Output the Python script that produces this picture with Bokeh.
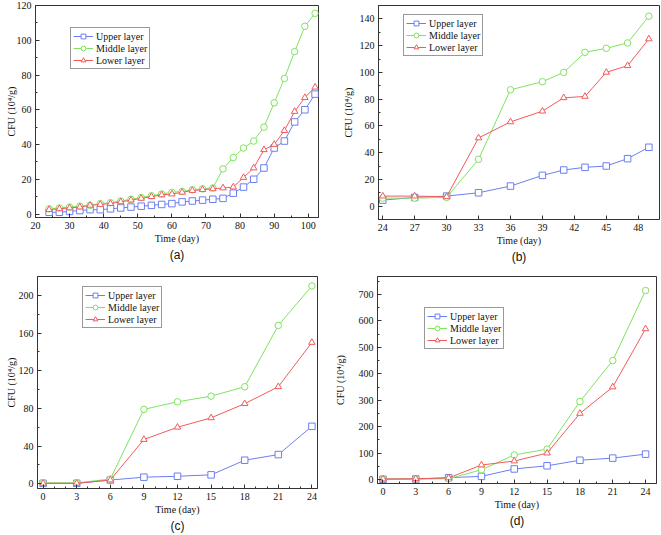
from bokeh.plotting import figure
from bokeh.layouts import column, row
from bokeh.models import Range1d, SingleIntervalTicker, FixedTicker, Legend, LinearAxis
from bokeh.embed import file_html
from bokeh.resources import INLINE

# ---------------- data ----------------
# panel (a)
a_days = [24, 27, 30, 33, 36, 39, 42, 45, 48, 51, 54, 57, 60, 63, 66, 69, 72, 75, 78, 81, 84, 87, 90, 93, 96, 99, 102]
a_upper = [1, 1, 1.5, 2, 2.5, 2.5, 3, 3.5, 4, 4.5, 5, 5.5, 6, 7, 7.5, 8, 8.5, 9, 12, 15.5, 20, 26.5, 38, 42, 53, 60, 69]
a_middle = [3, 3.5, 4, 4.5, 5, 6, 6.5, 7.5, 8.5, 9.5, 10.5, 11.5, 12.5, 13, 14, 14.5, 15, 26, 32.5, 38, 42, 50, 64, 78, 93.5, 108, 115.5]
a_lower = [2.5, 3, 3.5, 4, 5, 5.5, 6, 7, 8, 9, 10, 11, 11.5, 12.5, 13.5, 14, 14.5, 15, 15.5, 21, 26.5, 37, 40, 48, 59, 67, 73]

# panel (b)
b_days = [24, 27, 30, 33, 36, 39, 41, 43, 45, 47, 49]
b_upper = [4.5, 6.5, 7.5, 10, 15, 23, 27, 29, 30, 35.5, 44]
b_middle = [6, 6, 6.5, 35, 87, 93, 100, 115, 118, 122, 142]
b_lower = [7.5, 7.5, 7, 51, 63, 71, 81, 82, 100, 105, 125]

# panel (c)
c_days = [0, 3, 6, 9, 12, 15, 18, 21, 24]
c_upper = [0.5, 0.5, 4, 7, 8, 9.5, 25, 31, 61]
c_middle = [1, 1, 5, 79, 87, 93, 103, 168, 210]
c_lower = [0.5, 0.5, 4, 47, 60, 70, 85, 103, 150]

# panel (d)
d_days = [0, 3, 6, 9, 12, 15, 18, 21, 24]
d_upper = [1, 2, 7, 12, 40, 52, 73, 81, 96]
d_middle = [2, 2, 3, 37, 93, 115, 295, 450, 715]
d_lower = [2, 3, 6, 55, 70, 100, 250, 350, 570]

series_names = ["Upper layer", "Middle layer", "Lower layer"]
x_label = "Time (day)"
y_label = "CFU (10\u2074/g)"
panel_tags = ["(a)", "(b)", "(c)", "(d)"]

# ---------------- style ----------------
COLORS = ["#6b7ff2", "#7fe35f", "#f25b5b"]
MARKERS = ["square", "circle", "triangle"]
SERIF = "Liberation Serif"
SANS = "Liberation Sans"
AX = "#333333"


def make_panel(days, ys, tag, xr, yr, xint, xminor, yint, yminor,
               fw, fh, bl, br, bt, bb, legloc, ystand):
    p = figure(frame_width=fw, frame_height=fh,
               min_border_left=bl, min_border_right=br,
               min_border_top=bt, min_border_bottom=bb,
               x_range=Range1d(*xr), y_range=Range1d(*yr),
               output_backend="svg", toolbar_location=None,
               background_fill_color="white", border_fill_color="white")
    p.grid.visible = False
    p.outline_line_color = AX
    p.outline_line_width = 1
    p.outline_line_alpha = 1

    p.xaxis.ticker = SingleIntervalTicker(interval=xint, num_minor_ticks=xminor)
    p.yaxis.ticker = SingleIntervalTicker(interval=yint, num_minor_ticks=yminor)
    for ax in (p.xaxis[0], p.yaxis[0]):
        ax.axis_line_color = AX
        ax.major_tick_line_color = AX
        ax.minor_tick_line_color = AX
        ax.major_tick_in = 4
        ax.major_tick_out = 0
        ax.minor_tick_in = 2
        ax.minor_tick_out = 0
        ax.major_label_text_font = SERIF
        ax.major_label_text_font_size = "10px"
        ax.major_label_text_color = "#111111"
        ax.major_label_standoff = 4
        ax.axis_label_text_font = SERIF
        ax.axis_label_text_font_size = "10px"
        ax.axis_label_text_font_style = "normal"
        ax.axis_label_text_color = "#111111"
    p.xaxis.axis_label = x_label
    p.xaxis.axis_label_standoff = 1
    p.yaxis.axis_label = y_label
    p.yaxis.axis_label_standoff = ystand

    # panel tag "(a)" etc. as a bare extra axis below the time axis
    tag_axis = LinearAxis(ticker=FixedTicker(ticks=[]), axis_label=tag,
                          axis_line_color=None, major_tick_line_color=None,
                          minor_tick_line_color=None,
                          major_tick_in=0, major_tick_out=0,
                          minor_tick_in=0, minor_tick_out=0,
                          major_label_standoff=0,
                          axis_label_standoff=1,
                          axis_label_text_font=SANS,
                          axis_label_text_font_size="12px",
                          axis_label_text_font_style="normal",
                          axis_label_text_color="#111111")
    p.add_layout(tag_axis, "below")

    items = []
    for name, y, col, mk in zip(series_names, ys, COLORS, MARKERS):
        l = p.line(days, y, line_color=col, line_width=1)
        s = p.scatter(days, y, marker=mk, size=6.5, line_color=col,
                      fill_color="white", line_width=1)
        items.append((name, [l, s]))

    leg = Legend(items=items, location=legloc)
    leg.label_text_font = SERIF
    leg.label_text_font_size = "10px"
    leg.label_text_color = "#111111"
    leg.label_height = 12
    leg.glyph_height = 12
    leg.glyph_width = 20
    leg.label_standoff = 3
    leg.spacing = 0
    leg.padding = 2
    leg.margin = 0
    leg.border_line_color = AX
    leg.border_line_width = 1
    leg.background_fill_color = "white"
    leg.background_fill_alpha = 1
    p.add_layout(leg, "center")
    return p


pa = make_panel(a_days, [a_upper, a_middle, a_lower], panel_tags[0],
                (20, 103), (-2, 120), 10, 2, 20, 2,
                283, 212, 35, 18, 5, 50, (35, 148), -3)
pb = make_panel(b_days, [b_upper, b_middle, b_lower], panel_tags[1],
                (23.6, 50), (-10, 150), 3, 0, 20, 2,
                281, 214, 42, 1, 3, 50, (25, 163), 3)
pc = make_panel(c_days, [c_upper, c_middle, c_lower], panel_tags[2],
                (-0.5, 24.5), (-5, 220), 3, 3, 40, 2,
                280, 212, 37, 12, 4, 50, (45, 160), -1)
pd = make_panel(d_days, [d_upper, d_middle, d_lower], panel_tags[3],
                (-0.5, 25), (-15, 768), 3, 2, 100, 2,
                279, 207, 48, 4, 9, 50, (47, 134), 10)

layout = column(row(pa, pb), row(pc, pd))

open("out.html", "w").write(file_html(layout, INLINE))
